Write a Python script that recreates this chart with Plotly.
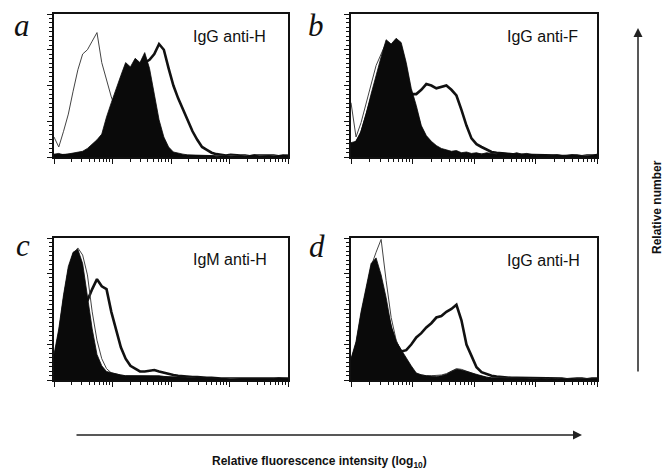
import numpy as np
import plotly.graph_objects as go

# log10 channel positions of the histogram bins (4 decades)
channel_log = np.linspace(0, 4, 50)
channel = 10 ** channel_log

panel_letters = ["a", "b", "c", "d"]
panel_titles = ["IgG anti-H", "IgG anti-F", "IgM anti-H", "IgG anti-H"]
x_title = "Relative fluorescence intensity (log<sub>10</sub>)"
y_title = "Relative number"

# ---- panel a ----
filled_a = [2, 2.5, 1.5, 2, 2.5, 3, 4, 6, 9, 12,
            16, 28, 38, 48, 57, 66, 63, 69, 66, 73,
            62, 44, 26, 14, 7, 3.5, 2.5, 2, 1.5, 1.5,
            1, 1, 1.5, 1, 0.5, 1, 1, 0.5, 1, 1,
            0.5, 1, 1.5, 0.5, 1, 1, 0.5, 1, 1.5, 1]
thin_a = [14, 7, 18, 30, 46, 61, 72, 75, 81, 87,
          66, 53, 42, 33, 25, 17, 11, 7, 4, 3,
          2, 1.5, 1, 1.5, 1, 1, 0.5, 1, 1, 0.5,
          1, 1, 0.5, 1, 1, 0.5, 1, 1, 0.5, 1,
          1, 0.5, 1, 1, 0.5, 1, 1, 0.5, 1, 1]
thick_a = [1, 1, 1, 1, 1.5, 2, 2, 3, 4, 5,
           6, 9, 14, 22, 32, 42, 50, 56, 60, 66,
           68, 72, 79, 75, 62, 50, 41, 33, 25, 18,
           12, 7, 5, 3, 2, 1.5, 1, 1.5, 1, 1,
           1, 0.5, 1, 1, 1.5, 1, 1, 0.5, 1, 1]

# ---- panel b ----
filled_b = [10, 11, 18, 30, 44, 58, 70, 82, 79, 83,
            80, 66, 48, 36, 22, 15, 11, 8, 6, 5,
            4, 4.5, 3, 3.5, 2.5, 3, 2, 3, 2.5, 2,
            3, 2.5, 2, 3, 2, 2.5, 1.5, 1, 1.5, 1,
            1, 1.5, 1, 1, 1.5, 1, 1, 0.5, 1, 2]
thin_b = [38, 14, 24, 38, 52, 64, 72, 80, 77, 81,
          78, 63, 45, 33, 21, 14, 10, 7, 5, 4,
          3, 3, 2.5, 2.5, 2, 2.5, 2, 2, 2, 2,
          2, 2, 1.5, 2, 1.5, 1.5, 1, 1, 1, 1,
          1, 1, 1, 1, 1, 1, 0.5, 0.5, 1, 1]
thick_b = [8, 10, 16, 28, 40, 50, 55, 58, 58, 56,
           52, 48, 44, 44, 47, 51, 50, 48, 49, 50,
           47, 43, 33, 22, 13, 9, 7, 5, 3.5, 3,
           2.5, 2, 2, 1.5, 1.5, 1.5, 1, 1.5, 1, 1,
           1, 1, 0.5, 1, 1, 1, 0.5, 1, 1, 1]

# ---- panel c ----
filled_c = [18, 36, 60, 80, 90, 92, 82, 60, 36, 18,
            10, 6, 5, 4, 3.5, 3, 3, 3.5, 3, 3,
            3.5, 3, 3, 2.5, 2.5, 2, 2, 2, 1.5, 1.5,
            1.5, 1, 1, 1.5, 1, 1, 1, 0.5, 1, 1,
            1, 1, 0.5, 1, 1, 1, 1, 1.5, 1, 1]
thin_c = [16, 34, 58, 78, 89, 93, 88, 74, 48, 28,
          15, 8, 5, 4, 3.5, 3, 3, 3, 3, 3,
          3, 3, 2.5, 2.5, 2, 2, 2, 1.5, 1.5, 1.5,
          1, 1, 1, 1, 1, 1, 1, 0.5, 1, 1,
          1, 1, 0.5, 1, 1, 1, 1, 1, 1, 1]
thick_c = [12, 22, 35, 45, 50, 52, 54, 56, 64, 71,
           66, 64, 48, 35, 23, 15, 10, 8, 6, 6,
           6.5, 7, 6, 5, 4, 3.5, 3, 2.5, 2.5, 2,
           2, 1.5, 1.5, 1.5, 1, 1, 1, 1, 1, 1,
           1, 1, 1, 1, 0.5, 1, 1, 1, 1, 1]

# ---- panel d ----
filled_d = [15, 27, 48, 66, 82, 86, 74, 58, 38, 27,
            21, 16, 10, 5, 3.5, 3, 2.5, 2.5, 3, 4,
            6, 7.5, 7, 6, 5, 3.5, 2.5, 2, 1.5, 1.5,
            1.5, 1, 1.5, 1, 1, 1, 0.5, 1, 1, 0.5,
            1, 0.5, 1, 0.5, 1, 0.5, 0.5, 1, 0.5, 1]
thin_d = [14, 26, 46, 64, 80, 90, 99, 70, 44, 28,
          20, 14, 8, 4.5, 3.5, 3, 3, 3, 3.5, 4.5,
          6.5, 8, 7.5, 6.5, 5, 3.5, 2.5, 2, 1.5, 1.5,
          1, 1, 1, 1, 1, 1, 0.5, 1, 1, 0.5,
          1, 0.5, 1, 0.5, 1, 0.5, 0.5, 1, 0.5, 1]
thick_d = [12, 22, 36, 48, 56, 58, 56, 50, 36, 26,
           20, 21, 25, 30, 33, 37, 40, 44, 45, 48,
           50, 53, 42, 25, 17, 9, 5.5, 4, 3, 2.5,
           2, 2, 1.5, 1.5, 1.5, 1, 1, 1, 1, 1,
           1, 1, 1, 0.5, 1, 1, 1, 0.5, 1, 1]

panels = [(filled_a, thin_a, thick_a), (filled_b, thin_b, thick_b),
          (filled_c, thin_c, thick_c), (filled_d, thin_d, thick_d)]

W, H = 665, 470
# pixel boxes (left, right, top, bottom)
boxes = [(54, 288, 14, 157), (351, 597, 14, 157),
         (54, 288, 238, 380), (351, 597, 238, 380)]
letter_pos = [(22, 26), (316, 25), (23, 245), (317, 246)]
title_pos = [(191, 37), (505, 37), (191, 259), (505, 260)]

fig = go.Figure()
major_x = [1, 10, 100, 1000, 10000]
minor_x = [m * 10 ** k for k in range(4) for m in range(2, 10)]

for i, (filled, thin, thick) in enumerate(panels):
    n = "" if i == 0 else str(i + 1)
    xa, ya = "x" + n, "y" + n
    fig.add_trace(go.Scatter(x=channel, y=thick, xaxis=xa, yaxis=ya, mode="lines",
                             line=dict(color="#111", width=2.6), hoverinfo="skip"))
    fig.add_trace(go.Scatter(x=channel, y=thin, xaxis=xa, yaxis=ya, mode="lines",
                             line=dict(color="#444", width=1), hoverinfo="skip"))
    fig.add_trace(go.Scatter(x=channel, y=filled, xaxis=xa, yaxis=ya, mode="lines",
                             fill="tozeroy", fillcolor="#0a0a0a",
                             line=dict(color="#0a0a0a", width=0.8), hoverinfo="skip"))
    l, r, t, b = boxes[i]
    fig.layout["xaxis" + n] = dict(
        type="log", range=[0, 4], domain=[l / W, r / W], anchor=ya,
        showline=True, linecolor="#111", linewidth=1.5, mirror=True,
        ticks="outside", tickvals=major_x, ticklen=5, tickwidth=1, tickcolor="#111",
        showticklabels=False, showgrid=False, zeroline=False,
        minor=dict(ticks="outside", tickmode="array", tickvals=minor_x, ticklen=3,
                   tickwidth=1, tickcolor="#111", showgrid=False))
    fig.layout["yaxis" + n] = dict(
        range=[0, 100], domain=[1 - b / H, 1 - t / H], anchor=xa,
        showline=True, linecolor="#111", linewidth=1.5, mirror=True,
        ticks="outside", dtick=25, ticklen=5, tickwidth=1, tickcolor="#111",
        showticklabels=False, showgrid=False, zeroline=False,
        minor=dict(ticks="outside", dtick=3.125, ticklen=3, tickwidth=1,
                   tickcolor="#111", showgrid=False))
    lx, ly = letter_pos[i]
    fig.add_annotation(x=lx / W, y=1 - ly / H, xref="paper", yref="paper",
                       text="<i>" + panel_letters[i] + "</i>", showarrow=False,
                       xanchor="center", yanchor="middle",
                       font=dict(family="Liberation Serif", size=31, color="#111"))
    tx, ty = title_pos[i]
    fig.add_annotation(x=tx / W, y=1 - ty / H, xref="paper", yref="paper",
                       text=panel_titles[i], showarrow=False,
                       xanchor="left", yanchor="middle",
                       font=dict(family="Liberation Sans", size=16, color="#111"))

# axis arrows and titles
fig.add_annotation(x=582 / W, y=1 - 435 / H, xref="paper", yref="paper", text="",
                   showarrow=True, ax=-507, ay=0, arrowhead=2, arrowsize=1.2,
                   arrowwidth=1.5, arrowcolor="#222")
fig.add_annotation(x=638 / W, y=1 - 28 / H, xref="paper", yref="paper", text="",
                   showarrow=True, ax=0, ay=345, arrowhead=2, arrowsize=1.2,
                   arrowwidth=1.5, arrowcolor="#222")
fig.add_annotation(x=319 / W, y=1 - 462 / H, xref="paper", yref="paper",
                   text="<b>" + x_title + "</b>", showarrow=False,
                   xanchor="center", yanchor="middle",
                   font=dict(family="Liberation Sans", size=12, color="#111"))
fig.add_annotation(x=657 / W, y=1 - 207 / H, xref="paper", yref="paper",
                   text="<b>" + y_title + "</b>", showarrow=False, textangle=-90,
                   xanchor="center", yanchor="middle",
                   font=dict(family="Liberation Sans", size=12, color="#111"))

fig.update_layout(width=W, height=H, autosize=False, showlegend=False,
                  margin=dict(l=0, r=0, t=0, b=0),
                  paper_bgcolor="white", plot_bgcolor="white")

fig.write_html("out.html", config={"displayModeBar": False},
               post_script="document.body.style.margin='0';document.body.style.overflow='hidden';")
